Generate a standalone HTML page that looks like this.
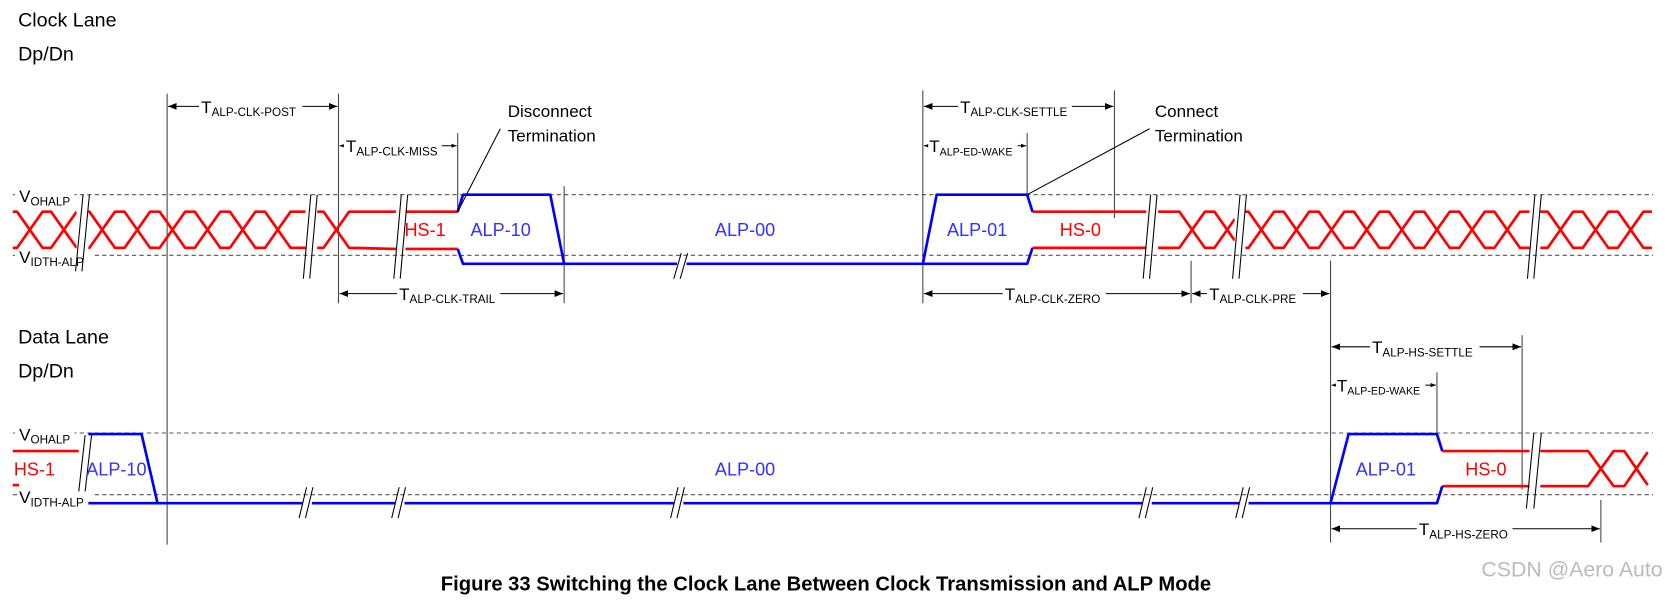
<!DOCTYPE html>
<html><head><meta charset="utf-8"><style>
html,body{margin:0;padding:0;background:#fff}
svg{display:block}
text{font-family:"Liberation Sans",Arial,sans-serif}
</style></head><body>
<svg width="1669" height="600" viewBox="0 0 1568 564" preserveAspectRatio="none" xmlns="http://www.w3.org/2000/svg">
<defs>
<marker id="ah" viewBox="0 0 10 10" refX="10" refY="5" markerWidth="8" markerHeight="8" orient="auto-start-reverse" markerUnits="userSpaceOnUse"><path d="M0,1 L10,5 L0,9 z" fill="#000"/></marker>
<marker id="as" viewBox="0 0 10 10" refX="10" refY="5" markerWidth="5" markerHeight="5" orient="auto-start-reverse" markerUnits="userSpaceOnUse"><path d="M0,1 L10,5 L0,9 z" fill="#000"/></marker>
</defs>

<g font-size="18.5" fill="#000">
<text x="17" y="25">Clock Lane</text>
<text x="17" y="57">Dp/Dn</text>
<text x="17" y="323">Data Lane</text>
<text x="17" y="355">Dp/Dn</text>
</g>

<g stroke="#555" stroke-width="1" stroke-dasharray="4,3">
<line x1="12" y1="183" x2="1553" y2="183"/>
<line x1="12" y1="240" x2="1553" y2="240"/>
<line x1="12" y1="407" x2="1553" y2="407"/>
<line x1="12" y1="465" x2="1553" y2="465"/>
</g>
<g font-size="16" fill="#000">
<rect x="14" y="170" width="56" height="22" fill="#fff"/>
<text x="18" y="190">V<tspan font-size="11" dy="3">OHALP</tspan></text>
<rect x="14" y="230" width="74" height="22" fill="#fff"/>
<text x="18" y="247">V<tspan font-size="11" dy="3">IDTH-ALP</tspan></text>
<rect x="14" y="395" width="56" height="22" fill="#fff"/>
<text x="18" y="414">V<tspan font-size="11" dy="3">OHALP</tspan></text>
<rect x="20" y="456" width="66" height="20" fill="#fff"/>
<text x="18" y="473">V<tspan font-size="11" dy="3">IDTH-ALP</tspan></text>
</g>

<g stroke="#444" stroke-width="1">
<line x1="157" y1="88" x2="157" y2="512"/>
<line x1="318" y1="88" x2="318" y2="285"/>
<line x1="430" y1="125" x2="430" y2="200"/>
<line x1="530" y1="175" x2="530" y2="285"/>
<line x1="867" y1="85" x2="867" y2="285"/>
<line x1="965" y1="125" x2="965" y2="185"/>
<line x1="1047" y1="85" x2="1047" y2="205"/>
<line x1="1119" y1="245" x2="1119" y2="285"/>
<line x1="1250" y1="245" x2="1250" y2="510"/>
<line x1="1350" y1="350" x2="1350" y2="410"/>
<line x1="1430" y1="315" x2="1430" y2="460"/>
<line x1="1504" y1="470" x2="1504" y2="510"/>
</g>

<g fill="none" stroke="#f00" stroke-width="2.5" stroke-linejoin="round">
<path d="M12,199 L16,199 L40,233 L48,233 L72,199"/>
<path d="M12,233 L16,233 L40,199 L48,199 L72,233"/>
<path d="M82,199 L84,199 L108,233 L117,233 L141,199 L150,199 L174,233 L183,233 L207,199 L216,199 L240,233 L249,233 L273,199 L287,199"/>
<path d="M82,233 L84,233 L108,199 L117,199 L141,233 L150,233 L174,199 L183,199 L207,233 L216,233 L240,199 L249,199 L273,233 L287,233"/>
<path d="M297,199 L304,199 L328,233 L372,234"/>
<path d="M297,233 L304,233 L328,199 L372,199"/>
<path d="M380,199 L430,199 M380,234 L430,234"/>
<path d="M970,199 L1077,199 M970,233 L1077,233"/>
<path d="M1087,199 L1108,199 L1132,233 L1141,233 L1160,206"/>
<path d="M1087,233 L1108,233 L1132,199 L1141,199 L1160,226"/>
<path d="M1170,199 L1173,199 L1197,233 L1206,233 L1230,199 L1239,199 L1263,233 L1272,233 L1296,199 L1305,199 L1329,233 L1338,233 L1362,199 L1371,199 L1395,233 L1404,233 L1428,199 L1437,199"/>
<path d="M1170,233 L1173,233 L1197,199 L1206,199 L1230,233 L1239,233 L1263,199 L1272,199 L1296,233 L1305,233 L1329,199 L1338,199 L1362,233 L1371,233 L1395,199 L1404,199 L1428,233 L1437,233"/>
<path d="M1447,199 L1454,199 L1478,233 L1487,233 L1511,199 L1520,199 L1544,233 L1552,233"/>
<path d="M1447,233 L1454,233 L1478,199 L1487,199 L1511,233 L1520,233 L1544,199 L1552,199"/>
<path d="M12,424 L74,424"/>
<path d="M12,456 L18,456"/>
<path d="M1355,424 L1437,424 M1355,457 L1437,457"/>
<path d="M1447,424 L1492,424 L1516,457 L1526,457 L1548,425"/>
<path d="M1447,457 L1492,457 L1516,424 L1526,424 L1548,456"/>
</g>

<g fill="none" stroke="#00f" stroke-width="2.5" stroke-linejoin="round">
<path d="M430,199 L435,183 L517,183 L530,248 L867,248"/>
<path d="M430,234 L435,248 L530,248"/>
<path d="M867,248 L880,183 L965,183 L970,199"/>
<path d="M867,248 L965,248 L970,233"/>
<path d="M83,408 L133,408 L148,473"/>
<path d="M83,473 L1250,473"/>
<path d="M1250,473 L1267,408 L1350,408 L1355,424"/>
<path d="M1250,473 L1350,473 L1355,457"/>
</g>

<g stroke="#000" stroke-width="1">
<rect x="72" y="192" width="11" height="46" fill="#fff" stroke="none"/>
<line x1="71" y1="255" x2="78" y2="183"/><line x1="77" y1="255" x2="84" y2="183"/>
<rect x="287" y="192" width="11" height="46" fill="#fff" stroke="none"/>
<line x1="285" y1="262" x2="292" y2="183"/><line x1="291" y1="262" x2="298" y2="183"/>
<rect x="372" y="192" width="9" height="46" fill="#fff" stroke="none"/>
<line x1="370" y1="262" x2="377" y2="183"/><line x1="376" y1="262" x2="383" y2="183"/>
<rect x="636" y="244" width="9" height="8" fill="#fff" stroke="none"/>
<line x1="633" y1="262" x2="640" y2="238"/><line x1="639" y1="262" x2="646" y2="238"/>
<rect x="1077" y="192" width="11" height="46" fill="#fff" stroke="none"/>
<line x1="1074" y1="262" x2="1081" y2="183"/><line x1="1080" y1="262" x2="1087" y2="183"/>
<rect x="1160" y="192" width="10" height="46" fill="#fff" stroke="none"/>
<line x1="1158" y1="262" x2="1165" y2="183"/><line x1="1164" y1="262" x2="1171" y2="183"/>
<rect x="1437" y="192" width="10" height="46" fill="#fff" stroke="none"/>
<line x1="1435" y1="262" x2="1442" y2="183"/><line x1="1441" y1="262" x2="1448" y2="183"/>
<line x1="74" y1="462" x2="80" y2="409"/><line x1="80" y1="462" x2="86" y2="409"/>
<rect x="284" y="469" width="9" height="8" fill="#fff" stroke="none"/>
<line x1="281" y1="487" x2="288" y2="458"/><line x1="287" y1="487" x2="294" y2="458"/>
<rect x="371" y="469" width="9" height="8" fill="#fff" stroke="none"/>
<line x1="368" y1="487" x2="375" y2="458"/><line x1="374" y1="487" x2="381" y2="458"/>
<rect x="633" y="469" width="9" height="8" fill="#fff" stroke="none"/>
<line x1="630" y1="487" x2="637" y2="458"/><line x1="636" y1="487" x2="643" y2="458"/>
<rect x="1073" y="469" width="9" height="8" fill="#fff" stroke="none"/>
<line x1="1070" y1="487" x2="1077" y2="458"/><line x1="1076" y1="487" x2="1083" y2="458"/>
<rect x="1164" y="469" width="9" height="8" fill="#fff" stroke="none"/>
<line x1="1161" y1="487" x2="1168" y2="458"/><line x1="1167" y1="487" x2="1174" y2="458"/>
<rect x="1437" y="418" width="10" height="44" fill="#fff" stroke="none"/>
<line x1="1434" y1="478" x2="1441" y2="407"/><line x1="1441" y1="478" x2="1448" y2="407"/>
</g>

<g font-size="17">
<text x="380" y="222" fill="#f00">HS-1</text>
<text x="442" y="222" fill="#33f">ALP-10</text>
<text x="700" y="222" fill="#33f" text-anchor="middle">ALP-00</text>
<text x="918" y="222" fill="#33f" text-anchor="middle">ALP-01</text>
<text x="1015" y="222" fill="#f00" text-anchor="middle">HS-0</text>
<text x="13" y="447" fill="#f00">HS-1</text>
<text x="81" y="447" fill="#33f">ALP-10</text>
<text x="700" y="447" fill="#33f" text-anchor="middle">ALP-00</text>
<text x="1302" y="447" fill="#33f" text-anchor="middle">ALP-01</text>
<text x="1396" y="447" fill="#f00" text-anchor="middle">HS-0</text>
</g>

<g font-size="16" fill="#000">
<text x="477" y="110">Disconnect</text>
<text x="477" y="133">Termination</text>
<text x="1085" y="110">Connect</text>
<text x="1085" y="133">Termination</text>
</g>
<g stroke="#000" stroke-width="1">
<line x1="430" y1="199" x2="470" y2="121"/>
<line x1="965" y1="183" x2="1080" y2="121"/>
</g>

<g stroke="#000" stroke-width="1" fill="none">
<line x1="158" y1="100" x2="317" y2="100" marker-start="url(#ah)" marker-end="url(#ah)"/>
<line x1="319" y1="137" x2="429" y2="137" marker-start="url(#as)" marker-end="url(#as)"/>
<line x1="319" y1="276" x2="529" y2="276" marker-start="url(#ah)" marker-end="url(#ah)"/>
<line x1="868" y1="100" x2="1046" y2="100" marker-start="url(#ah)" marker-end="url(#ah)"/>
<line x1="868" y1="137" x2="964" y2="137" marker-start="url(#as)" marker-end="url(#as)"/>
<line x1="868" y1="276" x2="1118" y2="276" marker-start="url(#ah)" marker-end="url(#ah)"/>
<line x1="1120" y1="276" x2="1249" y2="276" marker-start="url(#ah)" marker-end="url(#ah)"/>
<line x1="1251" y1="326" x2="1429" y2="326" marker-start="url(#ah)" marker-end="url(#ah)"/>
<line x1="1251" y1="362" x2="1349" y2="362" marker-start="url(#as)" marker-end="url(#as)"/>
<line x1="1251" y1="497" x2="1503" y2="497" marker-start="url(#ah)" marker-end="url(#ah)"/>
</g>
<g font-size="16" fill="#000">
<rect x="187" y="88" width="97" height="24" fill="#fff"/>
<text x="189" y="106">T<tspan font-size="11" dy="3">ALP-CLK-POST</tspan></text>
<rect x="323" y="125" width="92" height="24" fill="#fff"/>
<text x="325" y="143">T<tspan font-size="11" dy="3">ALP-CLK-MISS</tspan></text>
<rect x="373" y="264" width="97" height="24" fill="#fff"/>
<text x="375" y="282">T<tspan font-size="11" dy="3">ALP-CLK-TRAIL</tspan></text>
<rect x="900" y="88" width="107" height="24" fill="#fff"/>
<text x="902" y="106">T<tspan font-size="11" dy="3">ALP-CLK-SETTLE</tspan></text>
<rect x="872" y="125" width="84" height="24" fill="#fff"/>
<text x="873" y="143">T<tspan font-size="10" dy="3">ALP-ED-WAKE</tspan></text>
<rect x="942" y="264" width="97" height="24" fill="#fff"/>
<text x="944" y="282">T<tspan font-size="11" dy="3">ALP-CLK-ZERO</tspan></text>
<rect x="1134" y="264" width="90" height="24" fill="#fff"/>
<text x="1136" y="282">T<tspan font-size="11" dy="3">ALP-CLK-PRE</tspan></text>
<rect x="1287" y="314" width="103" height="24" fill="#fff"/>
<text x="1289" y="332">T<tspan font-size="11" dy="3">ALP-HS-SETTLE</tspan></text>
<rect x="1255" y="350" width="84" height="24" fill="#fff"/>
<text x="1256" y="368">T<tspan font-size="10" dy="3">ALP-ED-WAKE</tspan></text>
<rect x="1331" y="485" width="90" height="24" fill="#fff"/>
<text x="1333" y="503">T<tspan font-size="11" dy="3">ALP-HS-ZERO</tspan></text>
</g>

<text x="776" y="555" font-size="19" font-weight="bold" text-anchor="middle" fill="#000">Figure 33 Switching the Clock Lane Between Clock Transmission and ALP Mode</text>
<text x="1562" y="542" font-size="20" text-anchor="end" fill="#bbb">CSDN @Aero Auto</text>
</svg>
</body></html>
